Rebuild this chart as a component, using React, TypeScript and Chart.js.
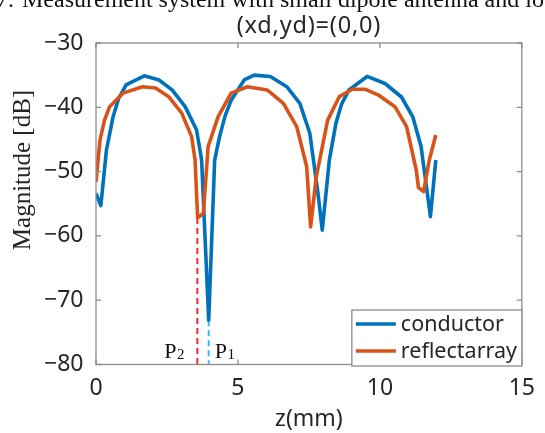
import React, { useEffect, useRef } from "react";
import { Chart, registerables } from "chart.js";

Chart.register(...registerables);

// ---- data ----
const zConductor = [0, 0.17, 0.37, 0.6, 0.8, 1.06, 1.7, 2.22, 2.68, 3.14, 3.54, 3.72, 3.97, 4.18, 4.35, 4.55, 4.76, 5.22, 5.57, 6.14, 6.72, 7.18, 7.53, 7.82, 7.97, 8.22, 8.45, 8.65, 8.91, 9.55, 10.18, 10.76, 11.16, 11.45, 11.78, 11.97];
const conductor = [-53.4, -55.3, -46.6, -41.5, -38.6, -36.5, -35.1, -35.75, -37.3, -39.9, -43.5, -48.2, -73.1, -48.2, -44.6, -41.3, -38.9, -35.75, -35.0, -35.2, -36.8, -39.4, -44.0, -53.4, -59.1, -48.2, -42.5, -39.5, -37.3, -35.2, -36.3, -38.4, -41.5, -46.1, -57.0, -48.2];

const zReflect = [0, 0.14, 0.3, 0.48, 0.95, 1.64, 2.1, 2.56, 3.02, 3.37, 3.49, 3.58, 3.78, 3.95, 4.3, 4.76, 5.33, 6.03, 6.6, 7.07, 7.42, 7.56, 7.76, 8.16, 8.57, 9.03, 9.49, 9.95, 10.53, 10.94, 11.28, 11.36, 11.54, 11.74, 11.97];
const reflectarray = [-51.6, -45.1, -42.0, -39.9, -37.8, -36.8, -37.0, -38.35, -40.9, -44.6, -48.2, -57.2, -56.5, -46.1, -41.5, -37.8, -36.8, -37.3, -39.4, -43.0, -49.2, -58.6, -50.8, -42.0, -38.35, -37.2, -37.2, -38.1, -39.9, -43.0, -49.75, -52.5, -53.1, -48.2, -44.3];

const seriesNames = ["conductor", "reflectarray"];
const xTicks = [0, 5, 10, 15];
const yTicks = [-80, -70, -60, -50, -40, -30];

// dashed markers: P2 (reflectarray dip) and P1 (conductor dip)
const markerZ = [3.57, 3.97];
const markerTop = [-57.2, -73.1];
const markerLetter = ["P", "P"];
const markerSub = ["2", "1"];

const titleText = "(xd,yd)=(0,0)";
const xTitle = "z(mm)";
const yTitle = "Magnitude [dB]";
const captionNum = "7.";
const captionText = "Measurement system with small dipole antenna and lo";

const BLUE = "#0072BD";
const ORANGE = "#D95319";
const RED_DASH = "#F0262E";
const CYAN_DASH = "#3DB8F0";
const TEXT = "#262626";
const AXIS = "#8c8c8c";
const SANS = "'Noto Sans', 'Liberation Sans', sans-serif";
const SERIF = "'Liberation Serif', 'DejaVu Serif', serif";

const decor = {
  id: "decor",
  afterDraw(chart: any) {
    const { ctx, chartArea: a, scales } = chart;
    const xs = scales.x;
    const ys = scales.y;
    ctx.save();

    // axes box
    ctx.strokeStyle = AXIS;
    ctx.lineWidth = 1.3;
    ctx.strokeRect(a.left, a.top, a.right - a.left, a.bottom - a.top);

    // inner ticks
    const tl = 5;
    ctx.beginPath();
    xTicks.forEach((v) => {
      const px = xs.getPixelForValue(v);
      ctx.moveTo(px, a.bottom);
      ctx.lineTo(px, a.bottom - tl);
      ctx.moveTo(px, a.top);
      ctx.lineTo(px, a.top + tl);
    });
    yTicks.forEach((v) => {
      const py = ys.getPixelForValue(v);
      ctx.moveTo(a.left, py);
      ctx.lineTo(a.left + tl, py);
      ctx.moveTo(a.right, py);
      ctx.lineTo(a.right - tl, py);
    });
    ctx.stroke();

    // title
    ctx.fillStyle = TEXT;
    ctx.font = `23.5px ${SANS}`;
    (ctx as any).letterSpacing = "0.8px";
    ctx.textAlign = "center";
    ctx.textBaseline = "alphabetic";
    ctx.fillText(titleText, (a.left + a.right) / 2, 33);
    (ctx as any).letterSpacing = "0px";

    // x title
    ctx.font = `23px ${SANS}`;
    ctx.fillText(xTitle, (a.left + a.right) / 2, 426);

    // y title
    ctx.save();
    ctx.font = `25px ${SERIF}`;
    ctx.translate(30, 170);
    ctx.rotate(-Math.PI / 2);
    ctx.fillText(yTitle, 0, 0);
    ctx.restore();

    // clipped caption on top
    ctx.fillStyle = "#111";
    ctx.font = `24px ${SERIF}`;
    ctx.textAlign = "left";
    ctx.fillText(captionNum, -4, 7);
    ctx.fillText(captionText, 22, 7);

    // P labels
    ctx.fillStyle = "#111";
    markerZ.forEach((z, i) => {
      const px = xs.getPixelForValue(z);
      ctx.font = `22px ${SERIF}`;
      const pw = ctx.measureText(markerLetter[i]).width;
      const left = i === 0 ? px - 33 : px + 6;
      ctx.fillText(markerLetter[i], left, 358);
      ctx.font = `15px ${SERIF}`;
      ctx.fillText(markerSub[i], left + pw + 0.5, 359);
    });

    // legend
    const lx = a.right - 170;
    const ly = 310;
    const lw = 170;
    const lh = 56;
    ctx.fillStyle = "#ffffff";
    ctx.fillRect(lx, ly, lw, lh);
    ctx.strokeStyle = AXIS;
    ctx.lineWidth = 1.3;
    ctx.strokeRect(lx, ly, lw, lh);
    const colors = [BLUE, ORANGE];
    seriesNames.forEach((name, i) => {
      const cy = ly + 14 + i * 27;
      ctx.strokeStyle = colors[i];
      ctx.lineWidth = 3.5;
      ctx.beginPath();
      ctx.moveTo(lx + 4, cy);
      ctx.lineTo(lx + 44, cy);
      ctx.stroke();
      ctx.fillStyle = TEXT;
      ctx.font = `21.5px ${SANS}`;
      ctx.textAlign = "left";
      ctx.textBaseline = "middle";
      ctx.fillText(name, lx + 49, cy + 1);
    });

    ctx.restore();
  },
};

export default function App() {
  const ref = useRef<HTMLCanvasElement | null>(null);

  useEffect(() => {
    document.body.style.margin = "0";
    const canvas = ref.current;
    if (!canvas) return;

    const chart = new Chart(canvas, {
      type: "line",
      data: {
        datasets: [
          {
            label: "P2 marker",
            data: [
              { x: markerZ[0], y: markerTop[0] },
              { x: markerZ[0], y: yTicks[0] },
            ],
            borderColor: RED_DASH,
            borderWidth: 2,
            borderDash: [6, 4],
            pointRadius: 0,
            order: 3,
          },
          {
            label: "P1 marker",
            data: [
              { x: markerZ[1], y: markerTop[1] },
              { x: markerZ[1], y: yTicks[0] },
            ],
            borderColor: CYAN_DASH,
            borderWidth: 2,
            borderDash: [6, 4],
            pointRadius: 0,
            order: 3,
          },
          {
            label: seriesNames[0],
            data: zConductor.map((z, i) => ({ x: z, y: conductor[i] })),
            borderColor: BLUE,
            borderWidth: 3.6,
            pointRadius: 0,
            borderJoinStyle: "round",
            tension: 0,
            order: 2,
          },
          {
            label: seriesNames[1],
            data: zReflect.map((z, i) => ({ x: z, y: reflectarray[i] })),
            borderColor: ORANGE,
            borderWidth: 3.6,
            pointRadius: 0,
            borderJoinStyle: "round",
            tension: 0,
            order: 1,
          },
        ],
      },
      options: {
        responsive: false,
        animation: false,
        devicePixelRatio: 1,
        layout: { padding: { left: 0, top: 43, right: 16.5, bottom: 0 } },
        plugins: {
          legend: { display: false },
          title: { display: false },
          tooltip: { enabled: false },
        },
        scales: {
          x: {
            type: "linear",
            min: 0,
            max: 15,
            grid: { display: false, drawTicks: false },
            border: { display: false },
            ticks: {
              stepSize: 5,
              color: TEXT,
              padding: 10,
              font: { family: SANS, size: 23 },
            },
            afterFit: (s: any) => {
              s.height = 68.5;
            },
          },
          y: {
            type: "linear",
            min: -80,
            max: -30,
            grid: { display: false, drawTicks: false },
            border: { display: false },
            ticks: {
              stepSize: 10,
              color: TEXT,
              padding: 12.5,
              font: { family: SANS, size: 23 },
              callback: (v: any) => String(v).replace("-", "\u2212"),
            },
            afterFit: (s: any) => {
              s.width = 96;
            },
          },
        },
      },
      plugins: [decor],
    });

    return () => chart.destroy();
  }, []);

  return (
    <div style={{ width: 545, height: 433, background: "#fff" }}>
      <canvas ref={ref} width={545} height={433} style={{ display: "block" }} />
    </div>
  );
}
